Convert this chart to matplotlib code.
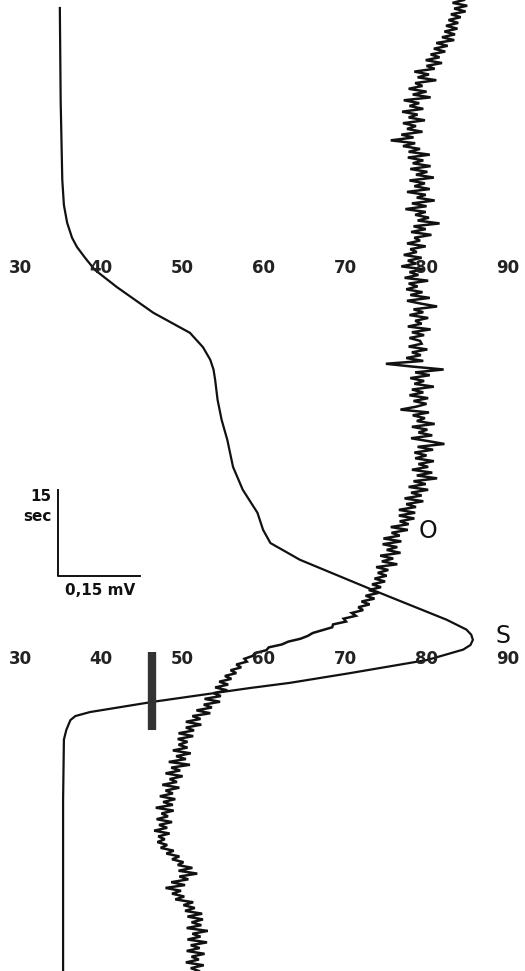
import numpy as np
import matplotlib
matplotlib.use("Agg")
import matplotlib.pyplot as plt

plt.rcParams['font.family'] = ['DejaVu Sans']

# smooth trace (S): chart-scale reading vs time in seconds (time runs downward)
s_time = [1.4, 17.5, 31.4, 35.8, 38.9, 41.5, 43.1, 45.0, 47.1, 50.1, 54.6, 58.1,
          60.6, 62.8, 64.5, 66.3, 69.8, 73.3, 76.8, 81.5, 85.5, 89.5, 92.5, 94.8, 96.0,
          97.7, 103.0, 108.2, 109.9, 110.8, 111.7, 112.6, 113.4, 115.2, 117.5,
          119.2, 120.1, 122.5, 124.3, 125.0, 125.7, 127.4, 129.1, 139.6, 169.5]
s_value = [34.9, 35.0, 35.2, 35.4, 35.8, 36.4, 37.0, 38.0, 39.2, 41.9, 46.4, 50.9,
           52.5, 53.4, 53.8, 54.0, 54.3, 54.8, 55.5, 56.2, 57.4, 59.2, 59.9, 60.8, 62.3,
           64.4, 73.4, 82.5, 84.9, 85.5, 85.7, 85.4, 84.5, 80.1, 70.6,
           63.2, 58.3, 46.4, 38.6, 36.8, 36.2, 35.7, 35.4, 35.3, 35.3]

# noisy trace (O): one reading every 0.5 s from t = 0 to 169.5 s
o_value = [
    84.6, 83.2, 85.0, 83.4, 84.8, 83.0, 84.2, 82.7, 83.9, 82.4, 83.8, 82.2, 83.5, 81.9, 83.4, 81.2, 82.6, 80.9, 82.3, 80.5,
    81.6, 79.9, 81.9, 80.0, 81.0, 78.5, 80.3, 78.9, 81.2, 78.6, 79.5, 77.8, 80.0, 78.3, 80.5, 77.2, 79.1, 77.9, 79.6, 77.0,
    78.9, 77.8, 79.8, 77.1, 78.7, 77.6, 79.5, 76.9, 78.4, 75.6, 78.6, 77.1, 79.2, 77.8, 80.4, 77.7, 79.6, 78.3, 80.5, 78.0,
    80.1, 78.7, 80.9, 77.9, 79.8, 78.5, 80.4, 77.6, 79.9, 78.8, 81.0, 78.2, 80.0, 77.4, 79.9, 78.6, 80.3, 78.9, 81.6, 78.4,
    79.9, 78.1, 80.6, 78.5, 79.2, 77.6, 79.9, 78.0, 78.8, 77.2, 79.4, 77.7, 78.7, 76.9, 79.6, 77.9, 79.0, 77.3, 80.2, 77.8,
    78.9, 77.5, 79.5, 78.0, 80.4, 77.6, 79.3, 81.3, 78.4, 79.6, 77.9, 80.2, 78.6, 79.4, 77.7, 80.5, 78.2, 79.7, 77.9, 79.2,
    79.4, 77.8, 80.1, 78.2, 79.3, 77.5, 79.6, 75.0, 78.3, 82.1, 78.6, 80.4, 78.0, 79.7, 78.5, 80.9, 78.2, 79.6, 77.9, 80.2,
    78.4, 80.0, 78.7, 76.8, 80.3, 78.3, 79.8, 78.8, 81.0, 78.2, 80.1, 79.0, 80.7, 78.1, 80.2, 82.2, 78.9, 80.8, 78.5, 80.0,
    78.6, 80.9, 79.0, 80.2, 78.2, 80.7, 78.8, 81.3, 78.4, 79.9, 77.8, 80.2, 78.1, 79.4, 77.3, 79.6, 77.5, 78.7, 76.6, 78.6,
    76.6, 78.5, 76.7, 77.8, 75.6, 77.7, 75.7, 76.7, 74.7, 76.9, 74.6, 76.4, 75.1, 76.8, 74.3, 75.9, 74.5, 76.4, 73.8, 75.3,
    74.0, 75.1, 73.6, 74.9, 73.3, 74.4, 72.9, 74.1, 72.5, 73.6, 72.0, 73.0, 71.6, 72.2, 70.8, 71.3, 69.8, 70.1, 68.5, 68.4,
    67.2, 66.0, 65.4, 64.5, 63.0, 62.2, 60.6, 60.3, 58.9, 58.6, 57.6, 57.9, 56.6, 57.2, 55.9, 56.6, 55.2, 56.0, 54.5, 55.6,
    54.0, 55.5, 53.8, 54.7, 52.7, 54.6, 52.6, 53.6, 51.7, 53.4, 51.2, 52.2, 50.4, 52.3, 50.4, 51.4, 49.5, 51.3, 49.4, 50.6,
    49.5, 50.6, 48.8, 51.0, 49.2, 50.4, 48.3, 50.9, 48.6, 49.7, 47.9, 50.0, 48.4, 49.3, 47.5, 49.6, 47.9, 48.8, 47.2, 49.1,
    47.6, 48.8, 46.7, 48.9, 47.4, 48.2, 46.8, 48.7, 47.1, 48.1, 46.5, 48.4, 47.0, 47.8, 46.9, 48.1, 47.3, 48.9, 48.0, 49.6,
    48.7, 50.1, 49.4, 51.2, 49.5, 51.8, 49.6, 50.7, 48.6, 50.3, 47.9, 49.8, 48.7, 50.2, 49.1, 51.3, 50.1, 51.5, 50.3, 52.4,
    50.6, 52.5, 51.1, 52.3, 50.5, 53.1, 51.2, 52.2, 50.6, 53.0, 51.0, 52.1, 50.5, 52.7, 51.1, 52.0, 50.4, 52.6, 51.0, 52.0,
]
o_time = np.arange(len(o_value)) * 0.5

scale_labels = [30, 40, 50, 60, 70, 80, 90]
row_times = [46.8, 115.0]      # the two printed scale rows

fig = plt.figure(figsize=(5.25, 9.71), dpi=100)
ax = fig.add_axes([0, 0, 1, 1])
ax.set_xlim(27.54, 92.11)
ax.set_ylim(169.5, 0)
ax.axis('off')

ink = '#111111'
ax.plot(s_value, s_time, color=ink, lw=1.6, solid_joinstyle='round')
ax.plot(o_value, o_time, color=ink, lw=1.8, solid_joinstyle='miter')

for rt in row_times:
    for v in scale_labels:
        ax.text(v, rt, str(v), ha='center', va='center', fontsize=12,
                fontweight='bold', color='#222222')

# marker bar on the lower row
ax.plot([46.2, 46.2], [113.8, 127.4], color='#333333', lw=6, solid_capstyle='butt')

# trace labels
ax.text(80.2, 92.7, 'O', ha='center', va='center', fontsize=17, color=ink)
ax.text(89.4, 111.0, 'S', ha='center', va='center', fontsize=17, color=ink)

# calibration: 15 sec / 0,15 mV
ax.plot([34.7, 34.7, 44.8], [85.5, 100.5, 100.5], color=ink, lw=1.4)
ax.text(33.9, 86.7, '15', ha='right', va='center', fontsize=11, fontweight='bold', color=ink)
ax.text(33.9, 90.1, 'sec', ha='right', va='center', fontsize=11, fontweight='bold', color=ink)
ax.text(39.8, 103.0, '0,15 mV', ha='center', va='center', fontsize=11, fontweight='bold',
        color=ink)

fig.savefig('out.png', dpi=100)
